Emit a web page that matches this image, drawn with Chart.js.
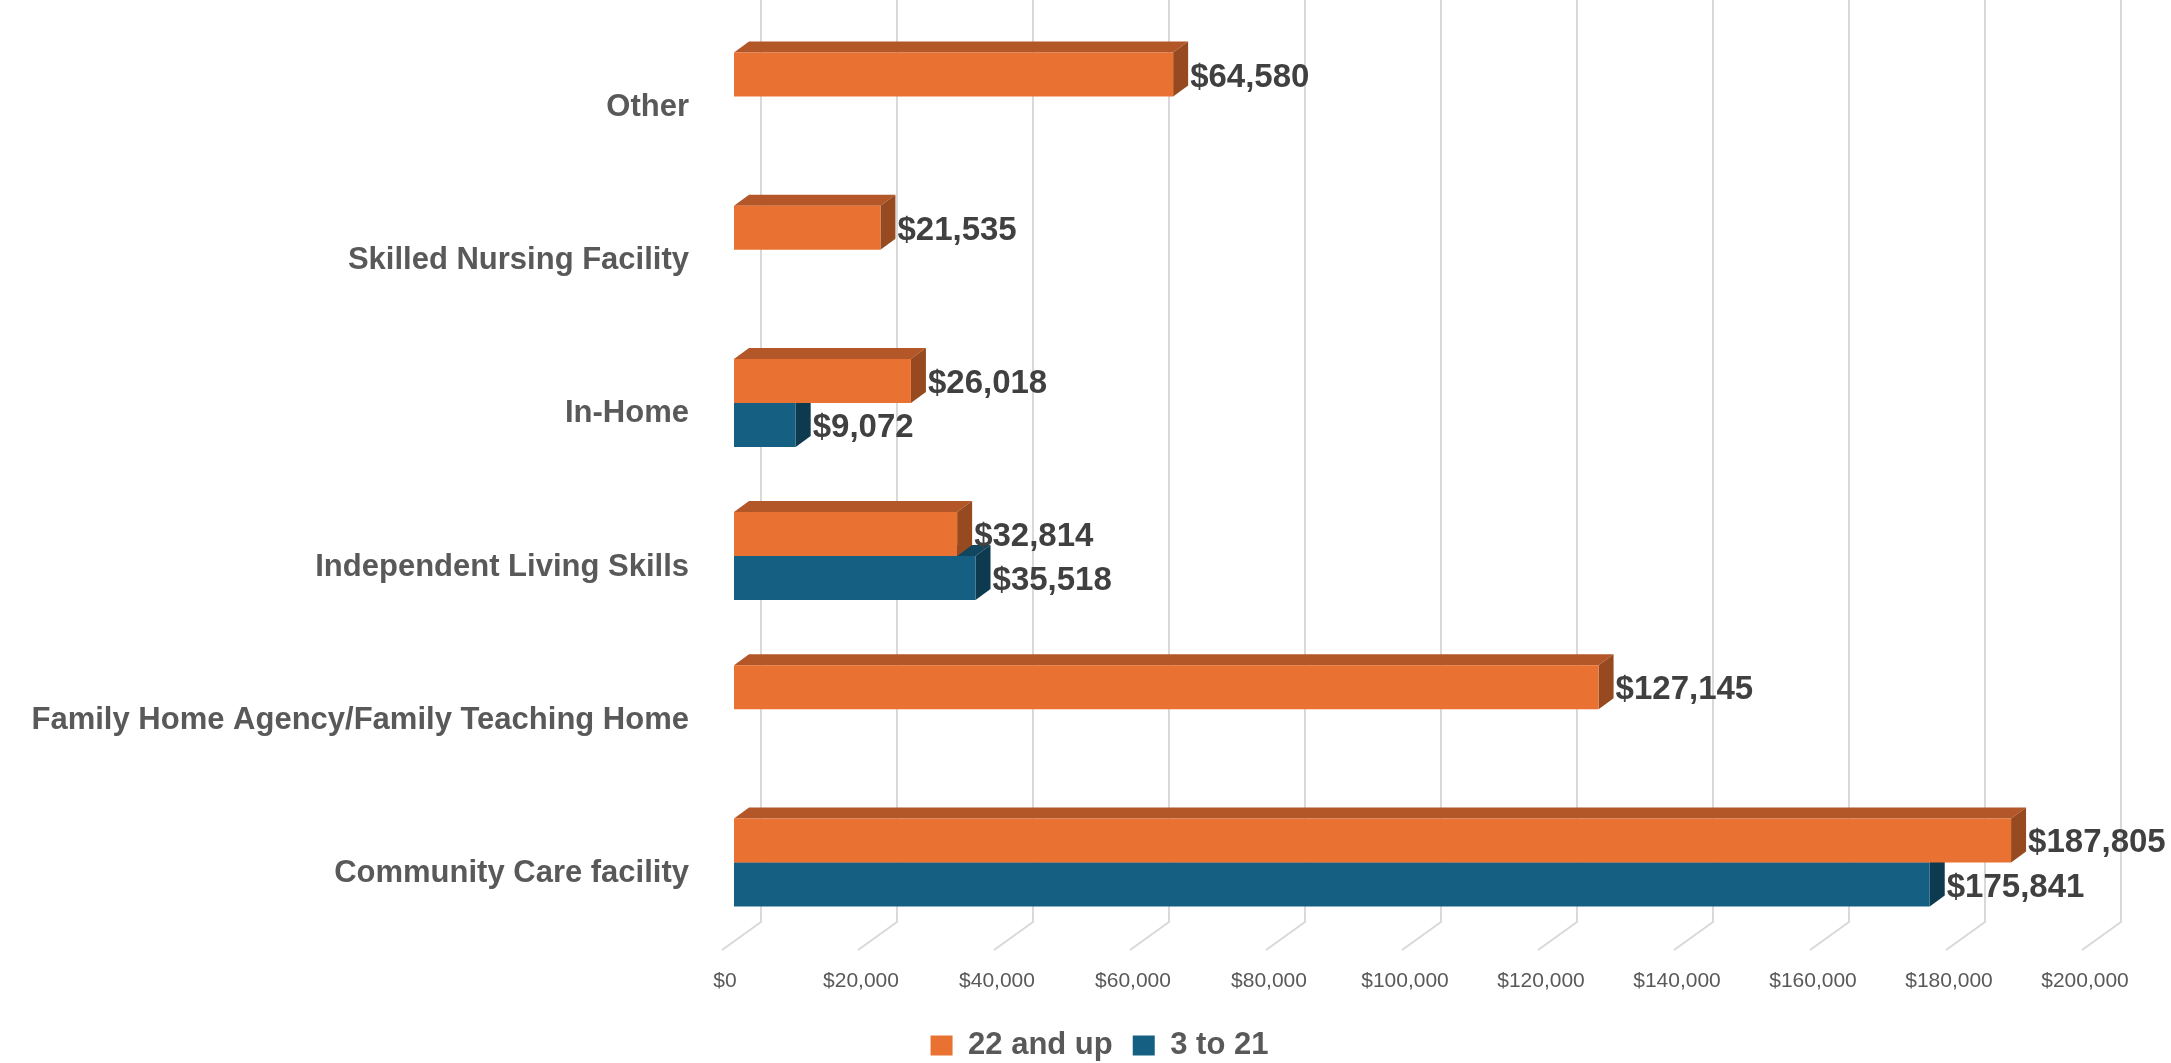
<!DOCTYPE html>
<html>
<head>
<meta charset="utf-8">
<script src="https://cdn.jsdelivr.net/npm/chart.js@4/dist/chart.umd.min.js"></script>
<style>
  html, body { margin: 0; padding: 0; background: #fff; }
  #wrap { width: 2171px; height: 1063px; position: relative; }
</style>
</head>
<body>
<div id="wrap"><canvas id="costChart"></canvas></div>
<script>
// categories top to bottom
const categories = [
  "Other",
  "Skilled Nursing Facility",
  "In-Home",
  "Independent Living Skills",
  "Family Home Agency/Family Teaching Home",
  "Community Care facility",
];
const adults = [64580, 21535, 26018, 32814, 127145, 187805]; // 22 and up
const youth = [null, null, 9072, 35518, null, 175841]; // 3 to 21
const xTicks = [0, 20000, 40000, 60000, 80000, 100000, 120000, 140000, 160000, 180000, 200000];

const FONT = "'Liberation Sans', Arial, sans-serif";
const DEPTH_X = 15, DEPTH_Y = 11;

const money = (v) => "$" + Number(v).toLocaleString("en-US");

// back wall grid + floor diagonals, then the 3D top/side faces of every bar
const threeD = {
  id: "threeD",
  beforeDatasetsDraw(chart) {
    const { ctx, chartArea, scales } = chart;
    const x = scales.x;
    ctx.save();
    ctx.strokeStyle = "#d9d9d9";
    ctx.lineWidth = 2;
    xTicks.forEach((v) => {
      const px = x.getPixelForValue(v);
      ctx.beginPath();
      ctx.moveTo(px + 27, 0);
      ctx.lineTo(px + 27, chartArea.bottom - 17);
      ctx.lineTo(px - 12, chartArea.bottom + 11);
      ctx.stroke();
    });

    // lower series first so the upper bar paints over it
    const faces = [
      { ds: 1, top: "#10465f", side: "#0d3a4f" },
      { ds: 0, top: "#b35628", side: "#974a1f" },
    ];
    faces.forEach((f) => {
      const meta = chart.getDatasetMeta(f.ds);
      const data = chart.data.datasets[f.ds].data;
      meta.data.forEach((bar, i) => {
        if (data[i] == null) return;
        const p = bar.getProps(["x", "y", "base", "height"], true);
        const y0 = p.y - p.height / 2, y1 = p.y + p.height / 2;
        ctx.fillStyle = f.top;
        ctx.beginPath();
        ctx.moveTo(p.base, y0);
        ctx.lineTo(p.x, y0);
        ctx.lineTo(p.x + DEPTH_X, y0 - DEPTH_Y);
        ctx.lineTo(p.base + DEPTH_X, y0 - DEPTH_Y);
        ctx.closePath();
        ctx.fill();
        ctx.fillStyle = f.side;
        ctx.beginPath();
        ctx.moveTo(p.x, y0);
        ctx.lineTo(p.x, y1);
        ctx.lineTo(p.x + DEPTH_X, y1 - DEPTH_Y);
        ctx.lineTo(p.x + DEPTH_X, y0 - DEPTH_Y);
        ctx.closePath();
        ctx.fill();
      });
    });
    ctx.restore();
  },
  afterDatasetsDraw(chart) {
    const { ctx } = chart;
    ctx.save();
    ctx.font = "bold 33px " + FONT;
    ctx.fillStyle = "#404040";
    ctx.textAlign = "left";
    ctx.textBaseline = "middle";
    chart.data.datasets.forEach((ds, d) => {
      chart.getDatasetMeta(d).data.forEach((bar, i) => {
        if (ds.data[i] == null) return;
        const p = bar.getProps(["x", "y"], true);
        ctx.fillText(money(ds.data[i]), p.x + DEPTH_X + 2, p.y + 3);
      });
    });
    ctx.restore();
  },
};

new Chart(document.getElementById("costChart"), {
  type: "bar",
  data: {
    labels: categories,
    datasets: [
      { label: "22 and up", data: adults, backgroundColor: "#e97132", borderWidth: 0 },
      { label: "3 to 21", data: youth, backgroundColor: "#156082", borderWidth: 0 },
    ],
  },
  options: {
    indexAxis: "y",
    responsive: true,
    maintainAspectRatio: false,
    animation: false,
    categoryPercentage: 0.575,
    barPercentage: 1,
    layout: { padding: { left: 28, right: 0, top: 20, bottom: -8 } },
    scales: {
      x: {
        min: 0,
        max: 200000,
        afterBuildTicks: (s) => { s.ticks = xTicks.map((v) => ({ value: v })); },
        afterFit: (s) => {
          s.height = 71;
          s.paddingLeft = 0;
          s.paddingRight = 77; // keeps the plot right edge off the canvas edge
        },
        grid: { display: false, drawTicks: false },
        border: { display: false },
        ticks: {
          callback: (v) => money(v),
          color: "#595959",
          font: { family: FONT, size: 21 },
          padding: 30,
          labelOffset: -9,
          maxRotation: 0,
          autoSkip: false,
        },
      },
      y: {
        afterFit: (s) => {
          s.width = 706;
          s.paddingTop = 0;
          s.paddingBottom = 0;
        },
        grid: { display: false, drawTicks: false },
        border: { display: false },
        ticks: {
          color: "#595959",
          font: { family: FONT, size: 31, weight: "bold" },
          padding: 45,
          labelOffset: 11,
          autoSkip: false,
        },
      },
    },
    plugins: {
      legend: {
        position: "bottom",
        labels: {
          color: "#595959",
          font: { family: FONT, size: 31, weight: "bold" },
          boxWidth: 22,
          boxHeight: 20,
          padding: 20,
        },
      },
      tooltip: { enabled: false },
    },
  },
  plugins: [threeD],
});
</script>
</body>
</html>
